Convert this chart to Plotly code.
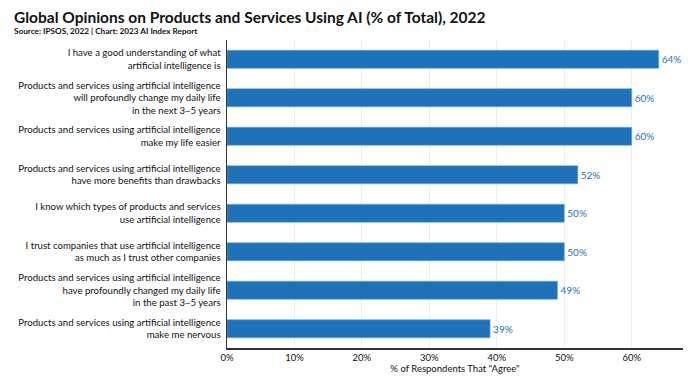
import plotly.graph_objects as go

categories = [
    "I have a good understanding of what<br>artificial intelligence is",
    "Products and services using artificial intelligence<br>will profoundly change my daily life<br>in the next 3–5 years",
    "Products and services using artificial intelligence<br>make my life easier",
    "Products and services using artificial intelligence<br>have more benefits than drawbacks",
    "I know which types of products and services<br>use artificial intelligence",
    "I trust companies that use artificial intelligence<br>as much as I trust other companies",
    "Products and services using artificial intelligence<br>have profoundly changed my daily life<br>in the past 3–5 years",
    "Products and services using artificial intelligence<br>make me nervous",
]
values = [64, 60, 60, 52, 50, 50, 49, 39]
labels = [f"{v}%" for v in values]
x_ticks = [0, 10, 20, 30, 40, 50, 60]
x_tick_text = [f"{t}%" for t in x_ticks]

BLUE = "#1f72b8"
FONT = "Lato, Inter, Roboto, sans-serif"

W, H = 700, 378
ML, MR, MT, MB = 227, 17, 40, 30
PW, PH = W - ML - MR, H - MT - MB


def px_x(x):
    return (x - ML) / PW


def px_y(y):
    return (H - MB - y) / PH


fig = go.Figure(go.Bar(
    x=values, y=categories, orientation="h",
    marker=dict(color=BLUE, line=dict(color="#6fa8dc", width=0.6)),
    width=0.47,
    text=labels, textposition="outside", cliponaxis=False,
    textfont=dict(color=BLUE, size=10, family=FONT),
))

fig.update_layout(
    width=W, height=H,
    margin=dict(l=ML, r=MR, t=MT, b=MB, autoexpand=False),
    paper_bgcolor="white", plot_bgcolor="white",
    showlegend=False,
    font=dict(family=FONT, color="#111", size=10),
    annotations=[
        dict(text="<b>Global Opinions on Products and Services Using AI (% of Total), 2022</b>",
             x=px_x(12), y=px_y(17), xref="paper", yref="paper", xanchor="left", yanchor="middle",
             showarrow=False, font=dict(size=15.5, color="#111", family=FONT)),
        dict(text="<b>Source: IPSOS, 2022 | Chart: 2023 AI Index Report</b>",
             x=px_x(12), y=px_y(31), xref="paper", yref="paper", xanchor="left", yanchor="middle",
             showarrow=False, font=dict(size=8.2, color="#111", family=FONT)),
    ],
)

fig.update_xaxes(
    range=[0, 67.6], tickvals=x_ticks, ticktext=x_tick_text,
    showgrid=True, gridcolor="#eeeeee", gridwidth=1,
    showline=True, linecolor="#333", linewidth=1.5,
    ticks="", tickfont=dict(size=9.5, color="#111"),
    title=dict(text='% of Respondents That "Agree"', font=dict(size=9.5, color="#111"), standoff=0),
    zeroline=False, fixedrange=True, automargin=False,
)
fig.update_yaxes(
    autorange="reversed",
    showline=True, linecolor="#333", linewidth=1.5,
    ticks="", ticklabelstandoff=3,
    tickfont=dict(size=9.6, color="#111"),
    showgrid=False, automargin=False, fixedrange=True,
)

fig.write_html(
    "out.html",
    config={"displayModeBar": False, "staticPlot": True},
    post_script="document.body.style.margin='0';document.body.style.overflow='hidden';",
)
